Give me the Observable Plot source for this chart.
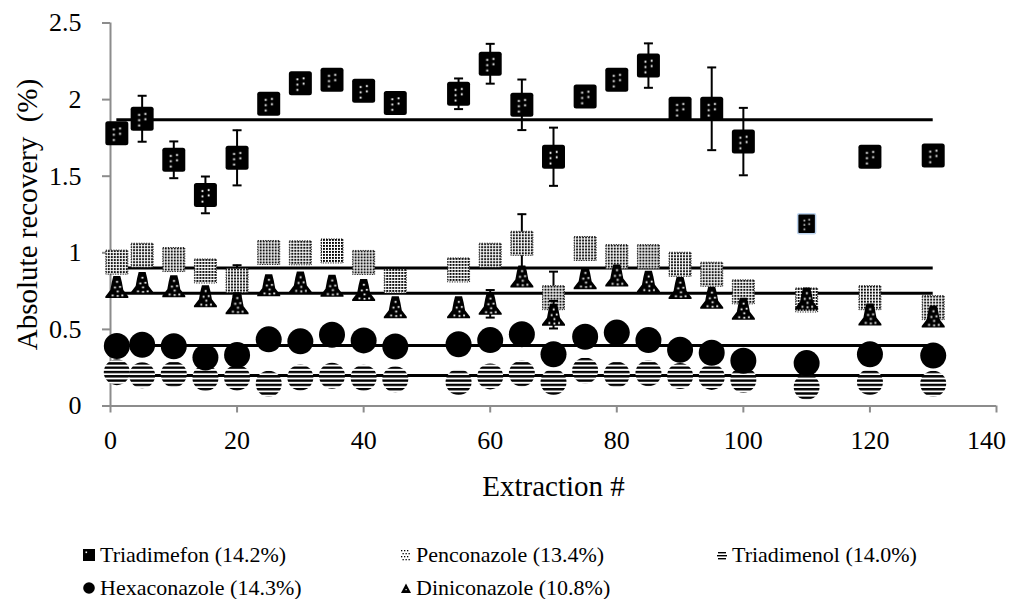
<!DOCTYPE html>
<html>
<head>
<meta charset="utf-8">
<script src="https://cdn.jsdelivr.net/npm/d3@7"></script>
<script src="https://cdn.jsdelivr.net/npm/@observablehq/plot@0.6"></script>
<style>
  html, body { margin: 0; padding: 0; background: #fff; }
  #wrap { position: relative; width: 1021px; height: 599px; overflow: hidden;
          font-family: 'Liberation Serif', 'DejaVu Serif', serif; color: #000; }
  #chart { position: absolute; left: 0; top: 0; }
  #chart svg text { font-family: 'Liberation Serif', 'DejaVu Serif', serif; }
  .leg { position: absolute; height: 24px; display: flex; align-items: center;
         font-size: 22px; white-space: nowrap; font-family: 'Liberation Serif', 'DejaVu Serif', serif; }
  .leg svg { margin-right: 4px; }
</style>
</head>
<body>
<div id="wrap"><div id="chart"></div></div>
<script>
// Extraction number of each measurement
const extraction = [1, 5, 10, 15, 20, 25, 30, 35, 40, 45, 55, 60, 65, 70, 75, 80, 85, 90, 95, 100, 110, 120, 130];

// Absolute recovery (%) per compound
const triadimefon  = [1.78, 1.875, 1.607, 1.378, 1.62, 1.973, 2.107, 2.13, 2.057, 1.977, 2.038, 2.234, 1.966, 1.627, 2.02, 2.13, 2.222, 1.94, 1.94, 1.726, 1.19, 1.627, 1.635];
const penconazole  = [0.939, 0.984, 0.956, 0.881, 0.819, 1.002, 1.0, 1.012, 0.937, 0.816, 0.888, 0.984, 1.062, 0.707, 1.028, 0.975, 0.975, 0.925, 0.86, 0.745, 0.692, 0.707, 0.642];
const triadimenol  = [0.221, 0.2, 0.207, 0.183, 0.185, 0.145, 0.186, 0.197, 0.184, 0.174, 0.156, 0.193, 0.212, 0.156, 0.232, 0.206, 0.214, 0.196, 0.19, 0.171, 0.125, 0.156, 0.145];
const hexaconazole = [0.392, 0.4, 0.39, 0.317, 0.333, 0.435, 0.422, 0.465, 0.428, 0.388, 0.403, 0.43, 0.469, 0.338, 0.452, 0.479, 0.43, 0.367, 0.348, 0.295, 0.28, 0.338, 0.33];
const diniconazole = [0.776, 0.803, 0.782, 0.716, 0.67, 0.789, 0.806, 0.785, 0.757, 0.645, 0.645, 0.667, 0.846, 0.596, 0.834, 0.852, 0.811, 0.771, 0.706, 0.634, 0.702, 0.597, 0.584];

// Error bar half-widths (0 = none)
const triadimefonErr  = [0, 0.15, 0.12, 0.12, 0.18, 0.03, 0, 0, 0, 0, 0.1, 0.13, 0.165, 0.19, 0, 0, 0.145, 0, 0.27, 0.22, 0, 0, 0];
const penconazoleErr  = [0, 0, 0, 0, 0.1, 0, 0, 0, 0, 0, 0, 0, 0.19, 0.17, 0, 0, 0, 0, 0, 0, 0, 0, 0];
const diniconazoleErr = [0, 0, 0, 0, 0, 0, 0, 0, 0, 0, 0, 0.09, 0, 0.09, 0, 0, 0, 0, 0, 0, 0, 0, 0];

// Series labels and mean recovery lines, in series order
const seriesNames = ["Triadimefon", "Penconazole", "Triadimenol", "Hexaconazole", "Diniconazole"];
const seriesRsd   = ["14.2%", "13.4%", "14.0%", "14.3%", "10.8%"];
const meanRecovery = [1.868, 0.9, 0.199, 0.395, 0.736];

// Axis ticks and titles
const xTicks = [0, 20, 40, 60, 80, 100, 120, 140];
const yTicks = [0, 0.5, 1, 1.5, 2, 2.5];
const xTitle = "Extraction #";
const yTitle = "Absolute recovery  (%)";

const rowsOf = (vals, errs) => extraction.map((e, i) => ({x: e, y: vals[i], err: errs ? errs[i] : 0}));
const tRows = rowsOf(triadimefon, triadimefonErr);
const pRows = rowsOf(penconazole, penconazoleErr);
const mRows = rowsOf(triadimenol);
const hRows = rowsOf(hexaconazole);
const dRows = rowsOf(diniconazole, diniconazoleErr);

// Marker shapes
function roundRect(ctx, w, h, r) {
  const x0 = -w / 2, y0 = -h / 2, x1 = w / 2, y1 = h / 2;
  ctx.moveTo(x0 + r, y0); ctx.lineTo(x1 - r, y0); ctx.arcTo(x1, y0, x1, y0 + r, r);
  ctx.lineTo(x1, y1 - r); ctx.arcTo(x1, y1, x1 - r, y1, r);
  ctx.lineTo(x0 + r, y1); ctx.arcTo(x0, y1, x0, y1 - r, r);
  ctx.lineTo(x0, y0 + r); ctx.arcTo(x0, y0, x0 + r, y0, r);
  ctx.closePath();
}
const squareSym = {draw(ctx) { roundRect(ctx, 23, 24, 2.5); }};
const smallSquareSym = {draw(ctx) { roundRect(ctx, 18, 20, 1.5); }};
const rectSym = {draw(ctx) { ctx.rect(-11, -12, 22, 24); }};
const bellSym = {draw(ctx) {
  ctx.moveTo(-3.5, -11); ctx.lineTo(3.5, -11); ctx.lineTo(5, -5); ctx.lineTo(6.5, 3);
  ctx.lineTo(11.5, 9.5); ctx.lineTo(11.5, 11); ctx.lineTo(-11.5, 11); ctx.lineTo(-11.5, 9.5);
  ctx.lineTo(-6.5, 3); ctx.lineTo(-5, -5); ctx.closePath();
}};
const capSym = {draw(ctx) { ctx.moveTo(-4.5, 0); ctx.lineTo(4.5, 0); }};

const isFlagged = d => d.x === 110;

function errorMarks(rows) {
  const r = rows.filter(d => d.err > 0);
  return [
    Plot.ruleX(r, {x: "x", y1: d => d.y - d.err, y2: d => d.y + d.err, stroke: "black", strokeWidth: 2}),
    Plot.dot(r, {x: "x", y: d => d.y + d.err, symbol: capSym, fill: "none", stroke: "black", strokeWidth: 2}),
    Plot.dot(r, {x: "x", y: d => d.y - d.err, symbol: capSym, fill: "none", stroke: "black", strokeWidth: 2})
  ];
}

const serif = "'Liberation Serif', 'DejaVu Serif', serif";
const xFirst = d3.min(extraction), xLast = d3.max(extraction);
const lastTick = xTicks[xTicks.length - 1];

const chart = Plot.plot({
  width: 1021,
  height: 515,
  marginLeft: 110,
  marginRight: 25,
  marginTop: 22.5,
  marginBottom: 109.5,
  x: {domain: [0, 140]},
  y: {domain: [0, 2.5]},
  style: {fontFamily: serif, background: "white", color: "black", overflow: "visible"},
  marks: [
    Plot.axisY({ticks: yTicks, tickFormat: d => String(d), tickSize: 8, tickPadding: 21,
      fontSize: 26, stroke: "#8c8c8c", strokeWidth: 2, fill: "black", label: null}),
    // x tick marks everywhere; the last label is pulled inside the chart edge
    Plot.axisX({ticks: xTicks, tickFormat: d => (d === lastTick ? "" : String(d)), tickSize: 7, tickPadding: 18,
      fontSize: 26, stroke: "#8c8c8c", strokeWidth: 2, fill: "black", label: null}),
    Plot.text([lastTick], {x: d => d, text: d => String(d), frameAnchor: "bottom", dy: 35, dx: -10,
      fontSize: 26, lineAnchor: "middle", textAnchor: "middle", fill: "black"}),
    Plot.ruleX([0], {stroke: "#8c8c8c", strokeWidth: 2}),
    Plot.ruleY([0], {stroke: "#8c8c8c", strokeWidth: 2}),
    Plot.text([yTitle], {text: d => d, frameAnchor: "left", dx: -83, rotate: -90,
      fontSize: 29, lineAnchor: "middle", textAnchor: "middle", fill: "black"}),
    Plot.text([xTitle], {text: d => d, frameAnchor: "bottom", dy: 81,
      fontSize: 29, lineAnchor: "middle", textAnchor: "middle", fill: "black"}),

    // mean lines
    Plot.ruleY(meanRecovery, {y: d => d, x1: xFirst, x2: xLast, stroke: "black", strokeWidth: 3}),

    // Triadimefon
    ...errorMarks(tRows),
    Plot.dot(tRows.filter(d => !isFlagged(d)), {x: "x", y: "y", symbol: squareSym, fill: "url(#pSquare)", stroke: "none"}),
    Plot.dot(tRows.filter(isFlagged), {x: "x", y: "y", symbol: smallSquareSym, fill: "url(#pSquare)", stroke: "#bcd3ee", strokeWidth: 1.5}),

    // Penconazole
    ...errorMarks(pRows),
    Plot.dot(pRows, {x: "x", y: "y", symbol: rectSym, fill: "url(#pDots)", stroke: "#222", strokeWidth: 1, strokeDasharray: "1.2,1.3"}),

    // Triadimenol
    Plot.dot(mRows, {x: "x", y: "y", r: 13, fill: "url(#pStripe)", stroke: "none"}),

    // Hexaconazole
    Plot.dot(hRows, {x: "x", y: "y", r: 13, fill: "black", stroke: "none"}),

    // Diniconazole
    ...errorMarks(dRows),
    Plot.dot(dRows, {x: "x", y: "y", symbol: bellSym, fill: "url(#pTri)", stroke: "none"})
  ]
});

// Fill patterns for the markers
const svg = d3.select(chart);
const defs = svg.insert("defs", ":first-child");

const pSq = defs.append("pattern").attr("id", "pSquare")
  .attr("patternUnits", "objectBoundingBox").attr("patternContentUnits", "objectBoundingBox")
  .attr("width", 1).attr("height", 1);
pSq.append("rect").attr("width", 1).attr("height", 1).attr("fill", "black");
[[0.33, 0.3], [0.6, 0.26], [0.33, 0.52], [0.6, 0.48], [0.33, 0.74]].forEach(([px, py]) =>
  pSq.append("rect").attr("x", px).attr("y", py).attr("width", 0.08).attr("height", 0.08).attr("fill", "white"));

const pTri = defs.append("pattern").attr("id", "pTri")
  .attr("patternUnits", "objectBoundingBox").attr("patternContentUnits", "objectBoundingBox")
  .attr("width", 1).attr("height", 1);
pTri.append("rect").attr("width", 1).attr("height", 1).attr("fill", "black");
[[0.47, 0.22], [0.38, 0.48], [0.6, 0.45], [0.5, 0.66], [0.28, 0.84], [0.5, 0.86], [0.7, 0.84]].forEach(([px, py]) =>
  pTri.append("rect").attr("x", px).attr("y", py).attr("width", 0.08).attr("height", 0.08).attr("fill", "white"));

const pDots = defs.append("pattern").attr("id", "pDots")
  .attr("patternUnits", "userSpaceOnUse").attr("width", 3).attr("height", 3);
pDots.append("rect").attr("width", 3).attr("height", 3).attr("fill", "white");
pDots.append("rect").attr("width", 1.9).attr("height", 1.9).attr("fill", "black");

const pStripe = defs.append("pattern").attr("id", "pStripe")
  .attr("patternUnits", "userSpaceOnUse").attr("x", 0).attr("y", 0.5).attr("width", 6).attr("height", 4.3);
pStripe.append("rect").attr("width", 6).attr("height", 4.3).attr("fill", "white");
pStripe.append("rect").attr("width", 6).attr("height", 2.4).attr("fill", "black");

document.getElementById("chart").appendChild(chart);

// Legend below the chart
const legendSwatch = [
  '<svg width="14" height="14"><rect x="1" y="1" width="12" height="12" fill="black"/><rect x="3.5" y="3.5" width="1.6" height="1.6" fill="white"/></svg>',
  '<svg width="12" height="12"><g fill="black">' +
    [0, 3, 6, 9].map(yy => [1, 4, 7].map(xx => `<rect x="${xx + (yy % 6 ? 1.5 : 0)}" y="${yy + 1}" width="1.3" height="1.3"/>`).join("")).join("") + '</g></svg>',
  '<svg width="12" height="12"><g fill="black"><rect x="2" y="3" width="8" height="1.4"/><rect x="1" y="6" width="10" height="1.4"/><rect x="2" y="9" width="8" height="1.4"/></g></svg>',
  '<svg width="14" height="14"><circle cx="7" cy="7" r="5.8" fill="black"/></svg>',
  '<svg width="12" height="12"><path d="M6,1.5 L11,11 L1,11 Z" fill="black"/><rect x="5.5" y="7" width="1.2" height="1.2" fill="white"/></svg>'
];
const legendPos = [[82, 543], [400, 543], [716, 543], [82, 576], [400, 576]];
const wrap = document.getElementById("wrap");
seriesNames.forEach((name, i) => {
  const div = document.createElement("div");
  div.className = "leg";
  div.style.left = legendPos[i][0] + "px";
  div.style.top = legendPos[i][1] + "px";
  div.innerHTML = legendSwatch[i] + `<span>${name} (${seriesRsd[i]})</span>`;
  wrap.appendChild(div);
});
</script>
</body>
</html>
